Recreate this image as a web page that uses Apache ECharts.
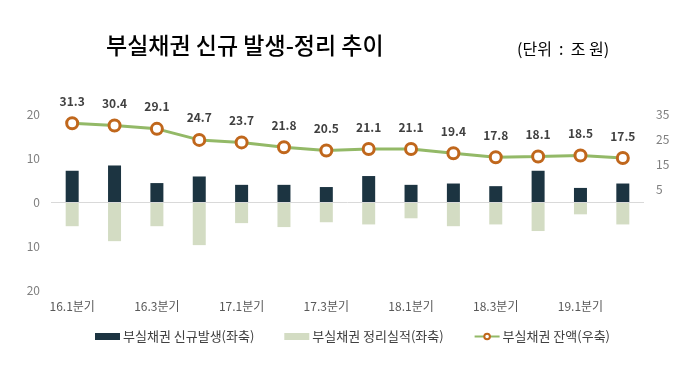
<!DOCTYPE html>
<html>
<head>
<meta charset="utf-8">
<script src="https://cdn.jsdelivr.net/npm/echarts@6/dist/echarts.min.js"></script>
<style>
  html, body { margin: 0; padding: 0; background: #fff; }
  #chart { width: 689px; height: 375px; }
</style>
</head>
<body>
<div id="chart"></div>
<script>
var quarters = ['16.1분기','16.2분기','16.3분기','16.4분기','17.1분기','17.2분기','17.3분기','17.4분기','18.1분기','18.2분기','18.3분기','18.4분기','19.1분기','19.2분기'];
var newNpl = [7.1, 8.3, 4.3, 5.8, 3.9, 3.9, 3.4, 5.9, 3.9, 4.2, 3.6, 7.1, 3.2, 4.2];
var resolved = [5.5, 8.9, 5.5, 9.8, 4.8, 5.7, 4.6, 5.1, 3.7, 5.5, 5.1, 6.6, 2.8, 5.1];
var balance = [31.3, 30.4, 29.1, 24.7, 23.7, 21.8, 20.5, 21.1, 21.1, 19.4, 17.8, 18.1, 18.5, 17.5];
var seriesNames = ['부실채권 신규발생(좌축)', '부실채권 정리실적(좌축)', '부실채권 잔액(우축)'];

var fontFamily = '"Noto Sans CJK KR", "Noto Sans", sans-serif';
var myChart = echarts.init(document.getElementById('chart'));
var option = {
  animation: false,
  textStyle: { fontFamily: fontFamily },
  title: [
    {
      text: '부실채권 신규 발생-정리 추이',
      left: 101, top: 29,
      textStyle: { fontSize: 23, fontWeight: 500, color: '#000', fontFamily: fontFamily }
    },
    {
      text: '(단위  :  조 원)',
      left: 512, top: 36,
      textStyle: { fontSize: 16, fontWeight: 'normal', color: '#000', fontFamily: fontFamily }
    }
  ],
  legend: {
    top: 325,
    left: 90,
    itemGap: 30,
    itemWidth: 25,
    itemHeight: 7,
    textStyle: { fontSize: 13, color: '#404040', padding: [0, 0, 0, -2] },
    data: [
      { name: seriesNames[0], icon: 'rect' },
      { name: seriesNames[1], icon: 'rect' },
      { name: seriesNames[2] }
    ]
  },
  grid: { left: 51, right: 45, top: 114, bottom: 85, containLabel: false },
  xAxis: {
    type: 'category',
    data: quarters,
    position: 'bottom',
    axisLine: { show: false },
    axisTick: { show: false },
    axisLabel: {
      interval: 1,
      color: '#595959',
      fontSize: 12,
      margin: 10
    }
  },
  yAxis: [
    {
      type: 'value',
      min: -20, max: 20, interval: 10,
      splitLine: { show: false },
      axisLine: { show: false },
      axisTick: { show: false },
      axisLabel: {
        color: '#7f7f7f', fontSize: 12, margin: 11,
        formatter: function (v) { return Math.abs(v); }
      }
    },
    {
      type: 'value',
      min: -35, max: 35, interval: 10,
      splitLine: { show: false },
      axisLine: { show: false },
      axisTick: { show: false },
      axisLabel: {
        color: '#7f7f7f', fontSize: 12, margin: 12,
        formatter: function (v) { return v > 0 ? v : ''; }
      }
    }
  ],
  series: [
    {
      name: seriesNames[0],
      type: 'bar',
      data: newNpl,
      barWidth: 13,
      barGap: '-100%',
      itemStyle: { color: '#1c3441' },
      markLine: {
        silent: true,
        symbol: 'none',
        label: { show: false },
        lineStyle: { color: '#d9d9d9', type: 'solid', width: 1 },
        data: [{ yAxis: 0 }]
      }
    },
    {
      name: seriesNames[1],
      type: 'bar',
      data: resolved.map(function (v) { return -v; }),
      barWidth: 13,
      itemStyle: { color: '#d3dcc3' }
    },
    {
      name: seriesNames[2],
      type: 'line',
      yAxisIndex: 1,
      data: balance,
      symbol: 'circle',
      symbolSize: 11,
      lineStyle: { color: '#93b967', width: 3 },
      itemStyle: { color: '#fff', borderColor: '#c0671c', borderWidth: 3 },
      label: {
        show: true,
        position: 'top',
        distance: 9,
        color: '#404040',
        fontWeight: 'bold',
        fontSize: 12,
        formatter: function (p) { return p.value.toFixed(1); }
      },
      z: 5
    }
  ]
};
myChart.setOption(option);
</script>
</body>
</html>
